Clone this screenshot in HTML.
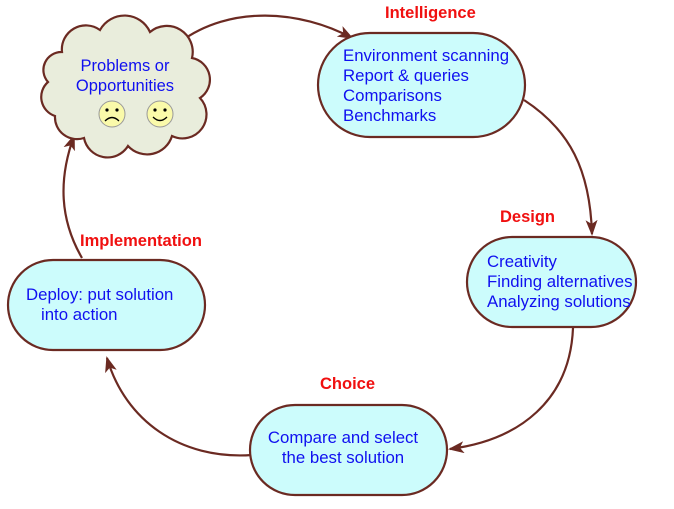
<!DOCTYPE html>
<html><head><meta charset="utf-8"><style>
body{margin:0;background:#fff}
svg text{font-family:"Liberation Sans",Arial,sans-serif}
</style></head><body>
<svg width="674" height="504" viewBox="0 0 674 504" xmlns="http://www.w3.org/2000/svg">
<defs>
<marker id="a" markerWidth="16" markerHeight="12" refX="14" refY="6" orient="auto" markerUnits="userSpaceOnUse">
<path d="M0,0 L16,6 L0,12 L4,6 Z" fill="#6b2a22"/>
</marker>
</defs>
<g fill="none" stroke="#6b2a22" stroke-width="2.2">
<path d="M180,42 C230,5 300,10 352,38" marker-end="url(#a)"/>
<path d="M524,100 C570,130 590,170 592,234" marker-end="url(#a)"/>
<path d="M573,328 C570,400 520,440 450,449" marker-end="url(#a)"/>
<path d="M252,455 C180,460 125,420 107,358" marker-end="url(#a)"/>
<path d="M82,258 C60,220 58,180 74,136" marker-end="url(#a)"/>
</g>
<path d="M62,52 A24,24 0 0 1 100,30 A28,28 0 0 1 150,32 A26,26 0 0 1 192,58 A22,22 0 0 1 200,98 A24,24 0 0 1 172,136 A26,26 0 0 1 128,146 A24,24 0 0 1 84,138 A22,22 0 0 1 55,116 A20,20 0 0 1 48,82 A18,18 0 0 1 62,52 Z" fill="#e9eddc" stroke="#6b2a22" stroke-width="2.2"/>
<text x="125" y="71" font-size="16.5" fill="#1010f0" text-anchor="middle">Problems or</text>
<text x="125" y="91" font-size="16.5" fill="#1010f0" text-anchor="middle">Opportunities</text>
<circle cx="112" cy="114" r="13" fill="#fafaaa" stroke="#999" stroke-width="1"/>
<circle cx="107" cy="110" r="1.6" fill="#000"/><circle cx="117" cy="110" r="1.6" fill="#000"/>
<path d="M105,121 Q112,114 119,121" fill="none" stroke="#000" stroke-width="1.3"/>
<circle cx="160" cy="114" r="13" fill="#fafaaa" stroke="#999" stroke-width="1"/>
<circle cx="155" cy="110" r="1.6" fill="#000"/><circle cx="165" cy="110" r="1.6" fill="#000"/>
<path d="M153,117 Q160,124 167,117" fill="none" stroke="#000" stroke-width="1.3"/>
<g fill="#ccfcfc" stroke="#6b2a22" stroke-width="2.2">
<rect x="318" y="33" width="207" height="104" rx="52"/>
<rect x="467" y="237" width="169" height="90" rx="45"/>
<rect x="250" y="405" width="197" height="90" rx="45"/>
<rect x="8" y="260" width="197" height="90" rx="45"/>
</g>
<g font-size="16.8" fill="#1010f0">
<text x="343" y="61">Environment scanning</text>
<text x="343" y="81">Report &amp; queries</text>
<text x="343" y="101">Comparisons</text>
<text x="343" y="121">Benchmarks</text>
<text x="487" y="267">Creativity</text>
<text x="487" y="287">Finding alternatives</text>
<text x="487" y="307">Analyzing solutions</text>
<text x="343" y="443" text-anchor="middle">Compare and select</text>
<text x="343" y="463" text-anchor="middle">the best solution</text>
<text x="26" y="300">Deploy: put solution</text>
<text x="41" y="320">into action</text>
</g>
<g font-size="16.5" font-weight="bold" fill="#f01010">
<text x="385" y="18">Intelligence</text>
<text x="500" y="222">Design</text>
<text x="320" y="389">Choice</text>
<text x="80" y="246">Implementation</text>
</g>
</svg>
</body></html>
